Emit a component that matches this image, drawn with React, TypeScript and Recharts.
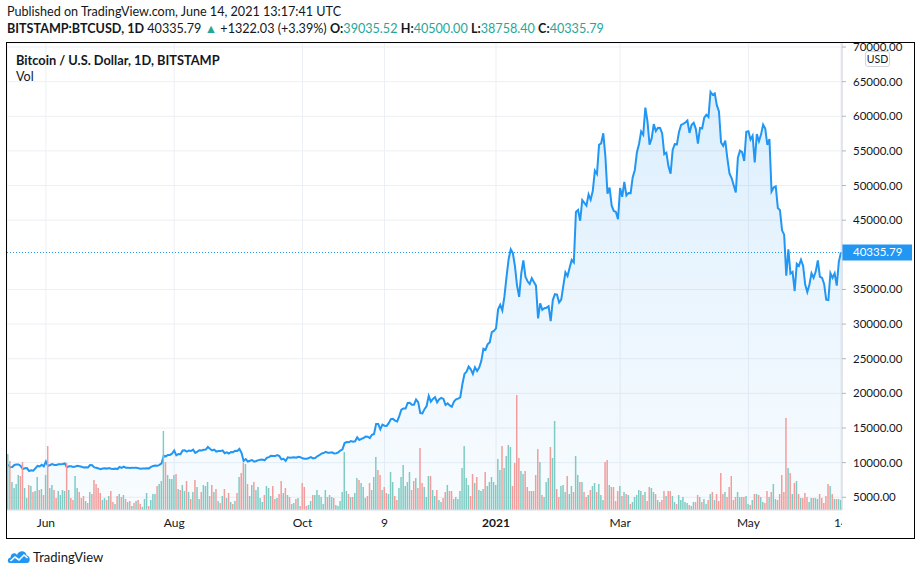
import React from 'react';
import { ComposedChart, Area, Bar, Cell, XAxis, YAxis, CartesianGrid, ReferenceLine } from 'recharts';

// daily closes, BITSTAMP BTCUSD
const closeMay20 = [9733, 9328, 9377, 9670, 9727, 9729, 9522, 9081, 9182, 9209, 8790, 8906, 8835, 9181, 9525, 9439, 9700, 9461];
const closeJun20 = [10167, 9529, 9656, 9800, 9665, 9653, 9758, 9771, 9794, 9870, 9321, 9480, 9475, 9386, 9450, 9538, 9480, 9411, 9288, 9332, 9303, 9648, 9629, 9313, 9264, 9162, 9045, 9143, 9190, 9137];
const closeJul20 = [9228, 9123, 9087, 9132, 9073, 9375, 9252, 9428, 9277, 9278, 9240, 9276, 9243, 9243, 9192, 9132, 9151, 9159, 9185, 9164, 9374, 9525, 9581, 9536, 9677, 9905, 10990, 10912, 11100, 11111, 11323];
const closeAug20 = [11759, 11053, 11246, 11205, 11747, 11779, 11601, 11754, 11675, 11878, 11410, 11584, 11784, 11768, 11865, 11892, 12254, 11991, 11758, 11878, 11592, 11681, 11664, 11774, 11366, 11488, 11324, 11542, 11506, 11712, 11680];
const closeSep20 = [11970, 11414, 10245, 10511, 10169, 10280, 10369, 10131, 10242, 10363, 10400, 10442, 10323, 10680, 10796, 10974, 10948, 10944, 11094, 10938, 10462, 10538, 10246, 10760, 10692, 10750, 10775, 10709, 10844, 10784];
const closeOct20 = [10619, 10575, 10549, 10669, 10793, 10604, 10668, 10915, 11064, 11296, 11384, 11555, 11425, 11429, 11495, 11323, 11358, 11483, 11742, 11916, 12823, 12965, 12931, 13108, 13031, 13075, 13654, 13271, 13437, 13546, 13781];
const closeNov20 = [13737, 13550, 14023, 14146, 15590, 15579, 14818, 15475, 15328, 15297, 15701, 16276, 16317, 16068, 15955, 16716, 17645, 17804, 17817, 18621, 18642, 18370, 18364, 19107, 18732, 17150, 17108, 17717, 18177, 19625];
const closeDec20 = [18802, 19201, 19445, 18699, 19154, 19345, 19191, 18321, 18553, 18264, 18058, 18803, 19142, 19246, 19417, 21310, 22805, 23137, 23869, 23477, 22803, 23783, 23241, 23735, 24664, 26437, 26272, 27084, 27362, 28841, 29001];
const closeJan21 = [29374, 32127, 32782, 31971, 33992, 36824, 39371, 40797, 40254, 38356, 35566, 33922, 37316, 39187, 36825, 36178, 35792, 36630, 36069, 35548, 30826, 33005, 32067, 32289, 32366, 32569, 30432, 33467, 34316, 34269, 33114];
const closeFeb21 = [33538, 35510, 37473, 36926, 38144, 39266, 38903, 46196, 46481, 44919, 47909, 47505, 47106, 48718, 47945, 49199, 52149, 51679, 55888, 56100, 57540, 54207, 48825, 49705, 47093, 46339, 46188, 45137];
const closeMar21 = [49631, 48378, 50538, 48561, 48927, 48912, 51207, 52246, 54824, 56008, 57805, 57332, 61243, 59302, 55907, 56804, 58870, 57858, 58346, 58313, 57523, 54529, 54738, 52774, 51704, 55137, 55974, 55947, 57750, 58760, 58918];
const closeApr21 = [59095, 59384, 57603, 58758, 59057, 58192, 56048, 58323, 58245, 59793, 60204, 59893, 63503, 63109, 63314, 61572, 60683, 56216, 55724, 56473, 53906, 51762, 51093, 50050, 49004, 54021, 55033, 54824, 53555, 57750];
const closeMay21 = [57828, 56631, 57200, 53333, 57424, 56396, 57356, 58803, 58232, 55859, 56704, 49150, 49716, 49880, 46760, 46456, 43537, 42909, 37002, 40782, 37304, 37536, 34770, 38705, 38402, 39294, 38436, 35697, 34616, 35678, 37332];
const closeJun21 = [36684, 37575, 39188, 36825, 36691, 35792, 33530, 33473, 37346, 36680, 37334, 35553, 39014, 40335.79];

// daily volume, thousand BTC
const volMay20 = [11.2, 9.8, 5.6, 4.4, 5.2, 7.0, 6.8, 9.6, 4.4, 2.4, 5.0, 4.8, 3.6, 3.8, 6.6, 4.0, 4.2, 3.0];
const volJun20 = [7.0, 12.8, 4.4, 5.0, 4.0, 2.4, 3.8, 3.0, 4.0, 3.8, 9.4, 4.0, 2.4, 2.0, 6.8, 4.4, 3.6, 2.4, 2.8, 1.8, 1.4, 3.6, 3.2, 6.0, 5.2, 4.4, 3.4, 2.0, 2.4, 2.0];
const volJul20 = [2.8, 3.8, 1.6, 1.2, 2.8, 3.2, 2.6, 3.0, 2.2, 1.6, 1.8, 0.8, 1.4, 1.8, 2.0, 1.2, 0.6, 2.2, 3.4, 0.8, 2.0, 3.2, 3.2, 4.8, 5.2, 5.8, 15.8, 9.6, 7.0, 6.2, 6.2];
const volAug20 = [7.0, 7.2, 4.2, 4.0, 5.0, 3.8, 5.8, 3.6, 2.2, 3.6, 6.0, 4.6, 2.2, 3.6, 5.0, 4.8, 5.6, 2.8, 5.0, 3.6, 4.2, 1.8, 1.4, 2.8, 4.2, 2.4, 3.4, 1.6, 1.2, 1.8, 3.4];
const volSep20 = [6.6, 7.4, 9.4, 9.2, 5.2, 2.8, 5.0, 5.6, 4.0, 4.6, 2.4, 1.6, 3.0, 4.8, 4.4, 2.8, 4.8, 2.2, 2.4, 3.2, 5.8, 3.4, 4.4, 3.0, 2.6, 1.2, 1.4, 2.2, 2.4, 0.8];
const volOct20 = [5.4, 4.6, 0.8, 1.0, 1.8, 3.0, 3.0, 4.0, 3.0, 2.6, 1.2, 4.0, 2.6, 3.0, 2.6, 2.4, 1.0, 0.8, 1.8, 3.6, 11.6, 3.8, 3.2, 2.6, 2.6, 3.4, 6.4, 6.0, 5.4, 4.6, 2.4];
const volNov20 = [2.8, 5.4, 4.0, 6.6, 10.6, 8.0, 7.0, 4.0, 4.6, 3.4, 3.2, 7.6, 5.6, 2.8, 2.0, 4.4, 6.6, 9.0, 4.8, 5.6, 7.6, 4.0, 5.8, 6.4, 4.4, 12.4, 5.4, 4.6, 2.6, 6.8];
const volDec20 = [6.8, 4.0, 2.8, 4.0, 2.0, 1.6, 2.4, 3.6, 5.0, 3.8, 3.8, 2.2, 2.6, 2.2, 3.8, 8.4, 12.8, 6.4, 5.0, 2.8, 7.2, 5.4, 6.6, 4.0, 3.8, 4.2, 7.6, 4.8, 5.6, 6.6, 5.6];
const volJan21 = [5.0, 10.2, 8.0, 12.8, 8.4, 10.8, 13.0, 12.6, 4.8, 9.4, 23.0, 10.4, 7.8, 7.2, 7.8, 4.6, 3.8, 3.8, 3.8, 7.0, 12.2, 9.6, 3.0, 2.6, 5.6, 6.4, 12.6, 10.4, 17.8, 4.2, 2.6];
const volFeb21 = [4.8, 5.0, 3.6, 6.8, 3.2, 4.8, 3.6, 10.8, 7.0, 5.6, 5.6, 3.6, 2.6, 3.0, 4.0, 4.8, 5.4, 3.6, 5.2, 3.0, 2.0, 9.6, 10.0, 5.0, 4.6, 4.6, 1.8, 3.8];
const volMar21 = [4.8, 2.8, 3.6, 3.2, 3.0, 1.2, 1.6, 2.6, 3.0, 4.0, 3.8, 3.0, 3.6, 1.8, 4.6, 4.4, 3.6, 3.2, 2.0, 1.6, 2.0, 3.8, 2.8, 3.8, 3.8, 2.8, 1.6, 1.2, 3.0, 2.0, 2.6];
const volApr21 = [1.6, 1.4, 1.0, 0.8, 1.6, 1.6, 3.0, 2.6, 1.6, 2.2, 1.2, 2.0, 3.2, 3.6, 2.0, 3.2, 1.8, 7.4, 3.2, 3.6, 2.6, 4.6, 6.8, 2.0, 2.6, 3.6, 2.6, 2.6, 2.6, 2.8];
const volMay21 = [1.2, 1.0, 2.0, 3.2, 3.2, 3.0, 2.6, 1.6, 1.4, 3.8, 2.6, 3.6, 5.2, 2.2, 2.0, 3.2, 7.0, 3.6, 18.4, 8.4, 7.4, 3.2, 5.4, 5.8, 3.2, 2.4, 2.4, 3.4, 2.6, 1.6, 2.4];
const volJun21 = [2.4, 2.4, 2.2, 3.2, 2.4, 1.4, 2.8, 5.2, 4.8, 3.2, 2.2, 2.2, 2.2, 2.0];

const closes = [
  ...closeMay20, ...closeJun20, ...closeJul20, ...closeAug20, ...closeSep20, ...closeOct20, ...closeNov20, ...closeDec20,
  ...closeJan21, ...closeFeb21, ...closeMar21, ...closeApr21, ...closeMay21, ...closeJun21,
];
const volumes = [
  ...volMay20, ...volJun20, ...volJul20, ...volAug20, ...volSep20, ...volOct20, ...volNov20, ...volDec20,
  ...volJan21, ...volFeb21, ...volMar21, ...volApr21, ...volMay21, ...volJun21,
];

const firstDay = Date.UTC(2020, 4, 14);
const dates = closes.map((_, i) => new Date(firstDay + i * 86400000).toISOString().slice(0, 10));

const tickDates = ['2020-06-01', '2020-08-01', '2020-10-01', '2020-11-09', '2021-01-01', '2021-03-01', '2021-05-01', '2021-06-14'];
const tickLabels = ['Jun', 'Aug', 'Oct', '9', '2021', 'Mar', 'May', '14'];
const priceTicks = [5000, 10000, 15000, 20000, 25000, 30000, 35000, 45000, 50000, 55000, 60000, 65000, 70000];
const lastPrice = 40335.79;

const data = dates.map((d, i) => ({
  date: d,
  close: closes[i],
  vol: volumes[i],
  up: i === 0 || closes[i] >= closes[i - 1],
}));

const FONT = "Lato, 'Open Sans', sans-serif";
const TEXT = '#131722';
const TEAL = '#26a69a';

const XTick = (props: any) => {
  const { x, payload } = props;
  const label = tickLabels[tickDates.indexOf(payload.value)];
  return (
    <text x={x} y={527} textAnchor="middle" fontSize={12} fontFamily={FONT} fill={TEXT}
      fontWeight={label === '2021' ? 700 : 400} clipPath="url(#timeClip)">
      {label}
    </text>
  );
};

const YTick = (props: any) => {
  const { y, payload } = props;
  return (
    <g>
      <line x1={842} x2={846} y1={y} y2={y} stroke="#b2b5be" />
      <text x={853} y={y + 4} fontSize={11.5} fontFamily={FONT} fill={TEXT}>
        {payload.value.toFixed(2)}
      </text>
    </g>
  );
};

const PriceTag = (props: any) => {
  const vb = props.viewBox;
  const left = vb.x + vb.width;
  return (
    <g>
      <rect x={left} y={vb.y - 8} width={70} height={16} fill="#2196f3" />
      <text x={left + 11} y={vb.y + 4} fontSize={11.5} fontFamily={FONT} fill="#ffffff">
        {lastPrice.toFixed(2)}
      </text>
    </g>
  );
};

export default function App() {
  return (
    <div style={{ position: 'absolute', left: 0, top: 0, width: 920, height: 575, background: '#fff', fontFamily: FONT, color: TEXT }}>
      <div style={{ position: 'absolute', left: 7, top: 4, fontSize: 12.6, lineHeight: '16px', whiteSpace: 'nowrap' }}>
        Published on TradingView.com, June 14, 2021 13:17:41 UTC
      </div>
      <div style={{ position: 'absolute', left: 7, top: 21, fontSize: 12.6, lineHeight: '16px', whiteSpace: 'nowrap' }}>
        <b>BITSTAMP:BTCUSD, 1D</b> 40335.79 <span style={{ color: TEAL }}>▲</span> +1322.03 (+3.39%){' '}
        <b>O:</b><span style={{ color: TEAL }}>39035.52</span>{' '}
        <b>H:</b><span style={{ color: TEAL }}>40500.00</span>{' '}
        <b>L:</b><span style={{ color: TEAL }}>38758.40</span>{' '}
        <b>C:</b><span style={{ color: TEAL }}>40335.79</span>
      </div>

      <div style={{ position: 'absolute', left: 6, top: 42, width: 909, height: 497, boxSizing: 'border-box', border: '1px solid #000', overflow: 'hidden' }}>
        <div style={{ position: 'absolute', left: -7, top: -43 }}>
          <ComposedChart width={920} height={575} data={data} margin={{ top: 43, right: 0, bottom: 37, left: 7 }}>
            <defs>
              <linearGradient id="areaFill" x1="0" y1="0" x2="0" y2="1">
                <stop offset="0%" stopColor="#2196f3" stopOpacity={0.26} />
                <stop offset="100%" stopColor="#2196f3" stopOpacity={0.05} />
              </linearGradient>
              <clipPath id="timeClip">
                <rect x={0} y={500} width={842} height={60} />
              </clipPath>
            </defs>
            <CartesianGrid yAxisId="price" stroke="#eceff4" />
            <XAxis dataKey="date" ticks={tickDates} interval={0} tick={<XTick />} tickLine={false}
              axisLine={{ stroke: '#e0e3eb' }} height={28} />
            <YAxis yAxisId="price" orientation="right" width={78} type="number" domain={[3161, 70579]}
              ticks={priceTicks} interval={0} tick={<YTick />} tickLine={false} axisLine={{ stroke: '#d1d4dc' }} />
            <YAxis yAxisId="vol" hide domain={[0, 93.4]} />
            <Bar yAxisId="vol" dataKey="vol" barSize={1.5} isAnimationActive={false}>
              {data.map((d, i) => (
                <Cell key={i} fill={d.up ? '#7fcbc3' : '#f29d9b'} />
              ))}
            </Bar>
            <Area yAxisId="price" type="linear" dataKey="close" stroke="#2196f3" strokeWidth={2}
              fill="url(#areaFill)" dot={false} activeDot={false} isAnimationActive={false} />
            <ReferenceLine yAxisId="price" y={lastPrice} stroke="#2196f3" strokeDasharray="1 2" label={<PriceTag />} />
          </ComposedChart>
        </div>
        <div style={{ position: 'absolute', left: 9, top: 9, fontSize: 12.8, fontWeight: 700, lineHeight: '16px', whiteSpace: 'nowrap' }}>
          Bitcoin / U.S. Dollar, 1D, BITSTAMP
        </div>
        <div style={{ position: 'absolute', left: 9, top: 26, fontSize: 12.6, lineHeight: '16px' }}>Vol</div>
        <div style={{ position: 'absolute', left: 858, top: 8, width: 25, height: 16, boxSizing: 'border-box', border: '1px solid #d1d4dc', borderRadius: 3, background: '#fff', fontSize: 10.5, lineHeight: '14px', textAlign: 'center' }}>
          USD
        </div>
      </div>

      <div style={{ position: 'absolute', left: 7, top: 548 }}>
        <svg width={24} height={16} viewBox="0 0 24 16">
          <path d="M3 15 C0 15 0 10 3.5 9.5 C3.5 5 8.5 4 10 7 C11.5 2 19 2 19.5 7.5 C23.5 7.5 24 15 20 15 Z" fill="#2196f3" />
          <polyline points="3.5,13 8,9 12,12 17,7 20.5,10" fill="none" stroke="#ffffff" strokeWidth={1.6} />
        </svg>
      </div>
      <div style={{ position: 'absolute', left: 33, top: 549, fontSize: 13, lineHeight: '16px' }}>TradingView</div>
    </div>
  );
}
